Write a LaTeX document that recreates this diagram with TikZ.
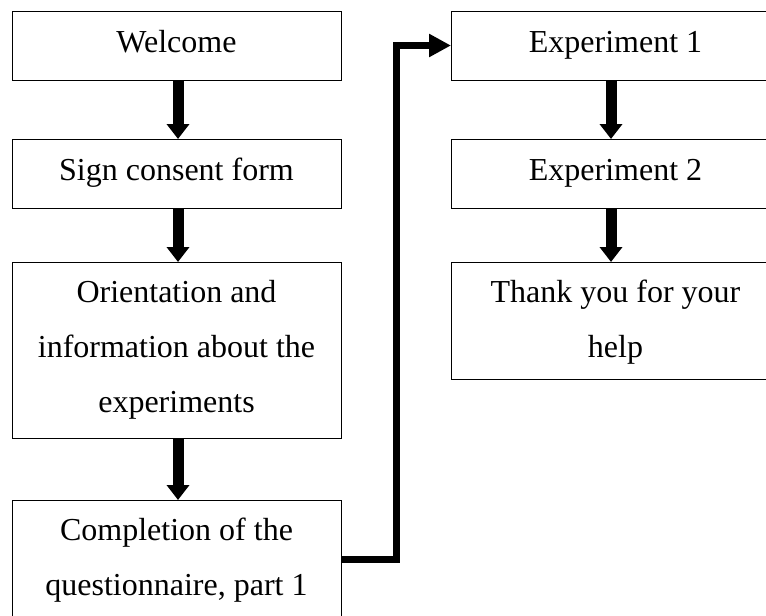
\documentclass[tikz,border=0pt]{standalone}
\usepackage{fontspec}
\setmainfont{Liberation Serif}
\usetikzlibrary{arrows.meta}
\newcommand{\boxlines}[1]{\parbox[t]{325pt}{\centering #1}}
\begin{document}
\begin{tikzpicture}[x=1pt,y=-1pt,
  stepbox/.style={draw, line width=1pt, minimum width=329pt, inner sep=0pt, outer sep=0pt,
    anchor=north west, font=\fontsize{32}{55}\selectfont, text height=41pt},
  flow/.style={line width=11pt, -{Triangle[width=22pt,length=15pt]}},
  elbow/.style={line width=7pt, -{Triangle[width=22pt,length=22pt]}}]
\useasboundingbox (0,0) rectangle (766,616);
\clip (0,0) rectangle (766,616);
% left column
\node[stepbox, text depth=28pt] (welcome) at (12,11) {Welcome};
\node[stepbox, text depth=28pt] (sign) at (12,139) {Sign consent form};
\node[stepbox, text height=40pt, text depth=136pt] (orient) at (12,262)
  {\boxlines{Orientation and\\information about the\\experiments}};
\node[stepbox, text height=40pt, text depth=78pt] (completion) at (12,500)
  {\boxlines{Completion of the\\questionnaire, part 1}};
% right column
\node[stepbox, text depth=28pt] (exp1) at (451,11) {Experiment 1};
\node[stepbox, text depth=28pt] (exp2) at (451,139) {Experiment 2};
\node[stepbox, text height=40pt, text depth=77pt] (thanks) at (451,262)
  {\boxlines{Thank you for your\\help}};
% connectors
\draw[flow] ([xshift=1.5pt]welcome.south) -- ([xshift=1.5pt]sign.north);
\draw[flow] ([xshift=1.5pt]sign.south) -- ([xshift=1.5pt]orient.north);
\draw[flow] ([xshift=1.5pt]orient.south) -- ([xshift=1.5pt]completion.north);
\draw[flow] ([xshift=-4.5pt]exp1.south) -- ([xshift=-4.5pt]exp2.north);
\draw[flow] ([xshift=-4.5pt]exp2.south) -- ([xshift=-4.5pt]thanks.north);
\draw[elbow] (completion.east) -- ++(55,0) |- (exp1.west);
\end{tikzpicture}
\end{document}
